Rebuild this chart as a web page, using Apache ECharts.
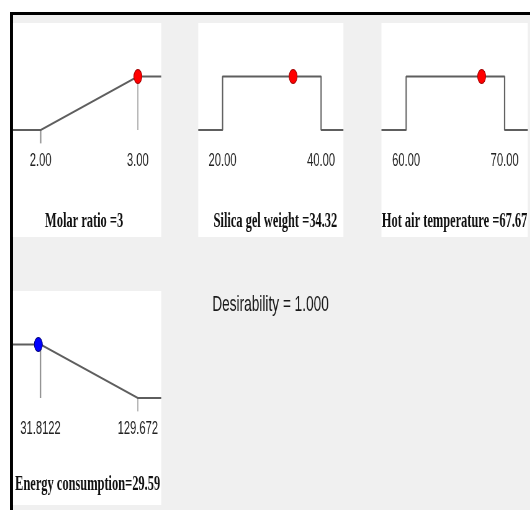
<!DOCTYPE html>
<html>
<head>
<meta charset="utf-8">
<script src="https://cdn.jsdelivr.net/npm/echarts@6/dist/echarts.min.js"></script>
<style>
  html, body { margin: 0; padding: 0; background: #ffffff; width: 530px; height: 510px; overflow: hidden; }
  #frame { position: absolute; left: 10px; top: 12px; width: 520px; height: 498px; box-sizing: border-box;
           border-top: 3px solid #000; border-left: 3px solid #000; background: #f0f0f0; }
  #chart { position: absolute; left: 0; top: 0; height: 510px; transform-origin: 0 0; }
</style>
</head>
<body>
<div id="frame"></div>
<div id="chart"></div>
<script>
// ---- data ----
const categories = ["Molar ratio", "Silica gel weight", "Hot air temperature", "Energy consumption"];
const lowLimits = [2.00, 20.00, 60.00, 31.8122];
const highLimits = [3.00, 40.00, 70.00, 129.672];
const currentValues = [3, 34.32, 67.67, 29.59];
const goals = ["maximize", "range", "range", "minimize"];
const individualDesirability = [1, 1, 1, 1];
const tickLabels = [["2.00", "3.00"], ["20.00", "40.00"], ["60.00", "70.00"], ["31.8122", "129.672"]];
const captions = ["Molar ratio =3", "Silica gel weight =34.32", "Hot air temperature =67.67", "Energy consumption=29.59"];
const desirabilityText = "Desirability = 1.000";

// ---- layout / style ----
const S = 0.62;               // horizontal squash of the original picture
const W = 530 / S;
const Y_MIN = -2, Y_MAX = 2;
const panels = [
  { left: 13,  top: 23,  width: 148, height: 214, xMin: 1.715, xMax: 3.24,  capX: 84,  capY: 222, dot: "#ff0000", dotBorder: "#a00000" },
  { left: 198, top: 23,  width: 145, height: 214, xMin: 15.06, xMax: 44.53, capX: 275, capY: 222, dot: "#ff0000", dotBorder: "#a00000" },
  { left: 381, top: 23,  width: 146, height: 214, xMin: 57.49, xMax: 72.34, capX: 454, capY: 222, dot: "#ff0000", dotBorder: "#a00000" },
  { left: 13,  top: 291, width: 148, height: 214, xMin: 4.13,  xMax: 153.13, capX: 87.5, capY: 485, dot: "#0000ff", dotBorder: "#00007a" }
];
const TICK_DROP = 0.25;

const chartDom = document.getElementById('chart');
chartDom.style.width = W + 'px';
chartDom.style.transform = 'scaleX(' + S + ')';
const chart = echarts.init(chartDom, null, { renderer: 'canvas', width: W, height: 510 });

const grid = [], xAxis = [], yAxis = [], series = [], graphic = [];

panels.forEach((p, i) => {
  grid.push({ left: p.left / S, top: p.top, width: p.width / S, height: p.height,
              show: true, backgroundColor: '#ffffff', borderWidth: 0, containLabel: false });
  const labels = tickLabels[i];
  const lo = lowLimits[i], hi = highLimits[i];
  // place the label row at the zero level of the y scale
  const zeroOffset = -p.height * (0 - Y_MIN) / (Y_MAX - Y_MIN);
  xAxis.push({
    type: 'value', gridIndex: i, min: p.xMin, max: p.xMax, position: 'bottom', offset: zeroOffset,
    axisLine: { show: false, onZero: false },
    axisTick: { show: false },
    splitLine: { show: false },
    axisLabel: {
      customValues: [lo, hi], margin: 22,
      fontFamily: 'Liberation Sans, Arial, sans-serif', fontSize: 18, color: '#222',
      formatter: v => (Math.abs(v - lo) < 1e-9 ? labels[0] : labels[1])
    }
  });
  yAxis.push({ type: 'value', gridIndex: i, min: Y_MIN, max: Y_MAX, show: false, splitLine: { show: false } });

  // desirability curve
  let curve;
  if (goals[i] === 'maximize') curve = [[p.xMin, 0], [lo, 0], [hi, 1], [p.xMax, 1]];
  else if (goals[i] === 'minimize') curve = [[p.xMin, 1], [lo, 1], [hi, 0], [p.xMax, 0]];
  else curve = [[p.xMin, 0], [lo, 0], [lo, 1], [hi, 1], [hi, 0], [p.xMax, 0]];

  // limit lines
  if (goals[i] === 'maximize') {
    series.push({ type: 'line', xAxisIndex: i, yAxisIndex: i, data: [[hi, 1], [hi, 0]], showSymbol: false, silent: true,
                  lineStyle: { color: '#b0b0b0', width: 2 }, z: 1 });
    series.push({ type: 'line', xAxisIndex: i, yAxisIndex: i, data: [[lo, 0], [lo, -TICK_DROP]], showSymbol: false, silent: true,
                  lineStyle: { color: '#8a8a8a', width: 2 }, z: 1 });
  } else if (goals[i] === 'minimize') {
    series.push({ type: 'line', xAxisIndex: i, yAxisIndex: i, data: [[lo, 1], [lo, 0]], showSymbol: false, silent: true,
                  lineStyle: { color: '#8a8a8a', width: 2 }, z: 1 });
    series.push({ type: 'line', xAxisIndex: i, yAxisIndex: i, data: [[hi, 0], [hi, -TICK_DROP]], showSymbol: false, silent: true,
                  lineStyle: { color: '#b0b0b0', width: 2 }, z: 1 });
  }

  series.push({ type: 'line', xAxisIndex: i, yAxisIndex: i, data: curve, showSymbol: false, silent: true,
                lineStyle: { color: '#5e5e5e', width: 2 }, z: 2 });

  series.push({ type: 'scatter', xAxisIndex: i, yAxisIndex: i, data: [[currentValues[i], individualDesirability[i]]],
                symbol: 'circle', symbolSize: [13, 14], silent: true,
                itemStyle: { color: p.dot, borderColor: p.dotBorder, borderWidth: 1, opacity: 1 }, z: 3 });

  graphic.push({ type: 'text', x: p.capX / S, y: p.capY, silent: true,
                 style: { text: captions[i], textAlign: 'center', textVerticalAlign: 'middle',
                          font: 'bold 20px "Liberation Serif", "Times New Roman", serif', fill: '#111' } });
});

graphic.push({ type: 'text', x: 212 / S, y: 305, silent: true,
               style: { text: desirabilityText, textAlign: 'left', textVerticalAlign: 'middle',
                        font: '22px "Liberation Sans", Arial, sans-serif', fill: '#1a1a1a' } });

chart.setOption({
  animation: false,
  backgroundColor: 'transparent',
  grid, xAxis, yAxis, series, graphic
});
</script>
</body>
</html>
